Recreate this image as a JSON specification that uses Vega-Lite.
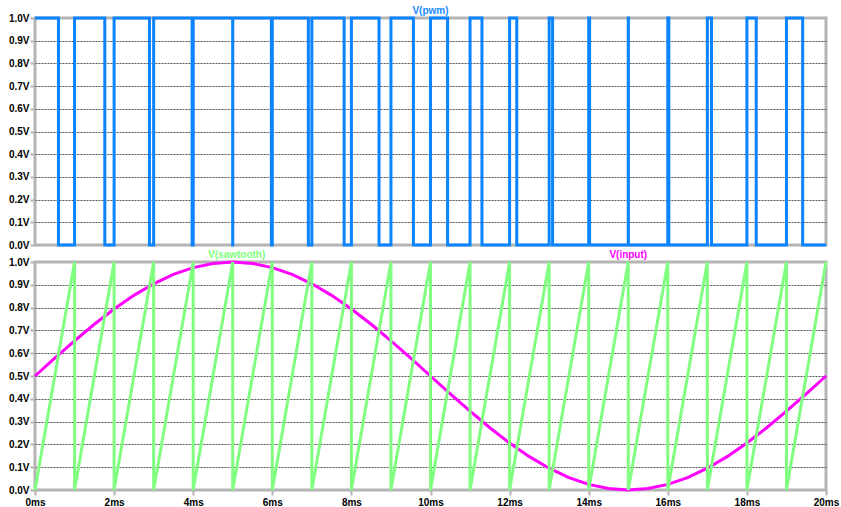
{
  "$schema": "https://vega.github.io/schema/vega-lite/v6.json",
  "autosize": {"type": "pad"},
  "padding": {"left": 6, "top": 4, "right": 0, "bottom": 0},
  "background": "white",
  "bounds": "flush",
  "spacing": 17,
  "datasets": {
    "pwm": [
      {"i": 0, "t": 0, "v": 1},
      {"i": 1, "t": 0.593, "v": 1}, {"i": 2, "t": 0.593, "v": 0},
      {"i": 3, "t": 1, "v": 0}, {"i": 4, "t": 1, "v": 1},
      {"i": 5, "t": 1.765, "v": 1}, {"i": 6, "t": 1.765, "v": 0},
      {"i": 7, "t": 2, "v": 0}, {"i": 8, "t": 2, "v": 1},
      {"i": 9, "t": 2.894, "v": 1}, {"i": 10, "t": 2.894, "v": 0},
      {"i": 11, "t": 3, "v": 0}, {"i": 12, "t": 3, "v": 1},
      {"i": 13, "t": 3.973, "v": 1}, {"i": 14, "t": 3.973, "v": 0},
      {"i": 15, "t": 4, "v": 0}, {"i": 16, "t": 4, "v": 1},
      {"i": 17, "t": 4.998, "v": 1}, {"i": 18, "t": 4.998, "v": 0},
      {"i": 19, "t": 5, "v": 0}, {"i": 20, "t": 5, "v": 1},
      {"i": 21, "t": 5.977, "v": 1}, {"i": 22, "t": 5.977, "v": 0},
      {"i": 23, "t": 6, "v": 0}, {"i": 24, "t": 6, "v": 1},
      {"i": 25, "t": 6.912, "v": 1}, {"i": 26, "t": 6.912, "v": 0},
      {"i": 27, "t": 7, "v": 0}, {"i": 28, "t": 7, "v": 1},
      {"i": 29, "t": 7.816, "v": 1}, {"i": 30, "t": 7.816, "v": 0},
      {"i": 31, "t": 8, "v": 0}, {"i": 32, "t": 8, "v": 1},
      {"i": 33, "t": 8.699, "v": 1}, {"i": 34, "t": 8.699, "v": 0},
      {"i": 35, "t": 9, "v": 0}, {"i": 36, "t": 9, "v": 1},
      {"i": 37, "t": 9.568, "v": 1}, {"i": 38, "t": 9.568, "v": 0},
      {"i": 39, "t": 10, "v": 0}, {"i": 40, "t": 10, "v": 1},
      {"i": 41, "t": 10.432, "v": 1}, {"i": 42, "t": 10.432, "v": 0},
      {"i": 43, "t": 11, "v": 0}, {"i": 44, "t": 11, "v": 1},
      {"i": 45, "t": 11.301, "v": 1}, {"i": 46, "t": 11.301, "v": 0},
      {"i": 47, "t": 12, "v": 0}, {"i": 48, "t": 12, "v": 1},
      {"i": 49, "t": 12.181, "v": 1}, {"i": 50, "t": 12.181, "v": 0},
      {"i": 51, "t": 13, "v": 0}, {"i": 52, "t": 13, "v": 1},
      {"i": 53, "t": 13.087, "v": 1}, {"i": 54, "t": 13.087, "v": 0},
      {"i": 55, "t": 14, "v": 0}, {"i": 56, "t": 14, "v": 1},
      {"i": 57, "t": 14.023, "v": 1}, {"i": 58, "t": 14.023, "v": 0},
      {"i": 59, "t": 15, "v": 0}, {"i": 60, "t": 15, "v": 1},
      {"i": 61, "t": 15.004, "v": 1}, {"i": 62, "t": 15.004, "v": 0},
      {"i": 63, "t": 16, "v": 0}, {"i": 64, "t": 16, "v": 1},
      {"i": 65, "t": 16.026, "v": 1}, {"i": 66, "t": 16.026, "v": 0},
      {"i": 67, "t": 17, "v": 0}, {"i": 68, "t": 17, "v": 1},
      {"i": 69, "t": 17.105, "v": 1}, {"i": 70, "t": 17.105, "v": 0},
      {"i": 71, "t": 18, "v": 0}, {"i": 72, "t": 18, "v": 1},
      {"i": 73, "t": 18.236, "v": 1}, {"i": 74, "t": 18.236, "v": 0},
      {"i": 75, "t": 19, "v": 0}, {"i": 76, "t": 19, "v": 1},
      {"i": 77, "t": 19.41, "v": 1}, {"i": 78, "t": 19.41, "v": 0},
      {"i": 79, "t": 20, "v": 0}
    ],
    "saw": [
      {"i": 0, "t": 0, "v": 0},
      {"i": 1, "t": 1, "v": 1}, {"i": 2, "t": 1, "v": 0},
      {"i": 3, "t": 2, "v": 1}, {"i": 4, "t": 2, "v": 0},
      {"i": 5, "t": 3, "v": 1}, {"i": 6, "t": 3, "v": 0},
      {"i": 7, "t": 4, "v": 1}, {"i": 8, "t": 4, "v": 0},
      {"i": 9, "t": 5, "v": 1}, {"i": 10, "t": 5, "v": 0},
      {"i": 11, "t": 6, "v": 1}, {"i": 12, "t": 6, "v": 0},
      {"i": 13, "t": 7, "v": 1}, {"i": 14, "t": 7, "v": 0},
      {"i": 15, "t": 8, "v": 1}, {"i": 16, "t": 8, "v": 0},
      {"i": 17, "t": 9, "v": 1}, {"i": 18, "t": 9, "v": 0},
      {"i": 19, "t": 10, "v": 1}, {"i": 20, "t": 10, "v": 0},
      {"i": 21, "t": 11, "v": 1}, {"i": 22, "t": 11, "v": 0},
      {"i": 23, "t": 12, "v": 1}, {"i": 24, "t": 12, "v": 0},
      {"i": 25, "t": 13, "v": 1}, {"i": 26, "t": 13, "v": 0},
      {"i": 27, "t": 14, "v": 1}, {"i": 28, "t": 14, "v": 0},
      {"i": 29, "t": 15, "v": 1}, {"i": 30, "t": 15, "v": 0},
      {"i": 31, "t": 16, "v": 1}, {"i": 32, "t": 16, "v": 0},
      {"i": 33, "t": 17, "v": 1}, {"i": 34, "t": 17, "v": 0},
      {"i": 35, "t": 18, "v": 1}, {"i": 36, "t": 18, "v": 0},
      {"i": 37, "t": 19, "v": 1}, {"i": 38, "t": 19, "v": 0},
      {"i": 39, "t": 20, "v": 1}
    ],
    "input": [
      {"t": 0, "v": 0.5}, {"t": 0.5, "v": 0.5782}, {"t": 1, "v": 0.6545}, {"t": 1.5, "v": 0.727},
      {"t": 2, "v": 0.7939}, {"t": 2.5, "v": 0.8536}, {"t": 3, "v": 0.9045}, {"t": 3.5, "v": 0.9455},
      {"t": 4, "v": 0.9755}, {"t": 4.5, "v": 0.9938}, {"t": 5, "v": 1.0}, {"t": 5.5, "v": 0.9938},
      {"t": 6, "v": 0.9755}, {"t": 6.5, "v": 0.9455}, {"t": 7, "v": 0.9045}, {"t": 7.5, "v": 0.8536},
      {"t": 8, "v": 0.7939}, {"t": 8.5, "v": 0.727}, {"t": 9, "v": 0.6545}, {"t": 9.5, "v": 0.5782},
      {"t": 10, "v": 0.5}, {"t": 10.5, "v": 0.4218}, {"t": 11, "v": 0.3455}, {"t": 11.5, "v": 0.273},
      {"t": 12, "v": 0.2061}, {"t": 12.5, "v": 0.1464}, {"t": 13, "v": 0.0955}, {"t": 13.5, "v": 0.0545},
      {"t": 14, "v": 0.0245}, {"t": 14.5, "v": 0.0062}, {"t": 15, "v": 0.0}, {"t": 15.5, "v": 0.0062},
      {"t": 16, "v": 0.0245}, {"t": 16.5, "v": 0.0545}, {"t": 17, "v": 0.0955}, {"t": 17.5, "v": 0.1464},
      {"t": 18, "v": 0.2061}, {"t": 18.5, "v": 0.273}, {"t": 19, "v": 0.3455}, {"t": 19.5, "v": 0.4218},
      {"t": 20, "v": 0.5}
    ]
  },
  "vconcat": [
    {
      "width": 791,
      "height": 227,
      "encoding": {
        "x": {"field": "t", "type": "quantitative", "scale": {"domain": [0, 20], "nice": false, "zero": false},
              "axis": {"labels": false, "ticks": false, "grid": false, "domain": false}},
        "y": {"field": "v", "type": "quantitative", "scale": {"domain": [0, 1], "nice": false},
              "axis": {"values": [0, 0.1, 0.2, 0.3, 0.4, 0.5, 0.6, 0.7, 0.8, 0.9, 1.0], "tickCount": 11,
                       "labelExpr": "format(datum.value, '.1f') + 'V'"}}
      },
      "layer": [
        {
          "data": {"name": "pwm"},
          "mark": {"type": "line", "color": "#0a84ff", "strokeWidth": 3, "clip": false},
          "encoding": {
            "order": {"field": "i", "type": "quantitative"}
          }
        },
        {
          "data": {"values": [{"t": 10, "v": 1, "label": "V(pwm)"}]},
          "mark": {"type": "text", "baseline": "middle", "dy": -7, "fontWeight": "bold", "fontSize": 10, "font": "Liberation Sans", "color": "#1a8cff"},
          "encoding": {
            "text": {"field": "label"}
          }
        }
      ]
    },
    {
      "width": 791,
      "height": 228,
      "encoding": {
        "x": {"field": "t", "type": "quantitative", "scale": {"domain": [0, 20], "nice": false, "zero": false},
              "axis": {"values": [0, 2, 4, 6, 8, 10, 12, 14, 16, 18, 20], "labelExpr": "datum.value + 'ms'", "grid": false, "domain": false, "labelPadding": 2}},
        "y": {"field": "v", "type": "quantitative", "scale": {"domain": [0, 1], "nice": false},
              "axis": {"values": [0, 0.1, 0.2, 0.3, 0.4, 0.5, 0.6, 0.7, 0.8, 0.9, 1.0], "tickCount": 11,
                       "labelExpr": "format(datum.value, '.1f') + 'V'"}}
      },
      "layer": [
        {
          "data": {"name": "input"},
          "mark": {"type": "line", "color": "#ff00ff", "strokeWidth": 3, "clip": false}
        },
        {
          "data": {"name": "saw"},
          "mark": {"type": "line", "color": "#80ff80", "strokeWidth": 3, "clip": false},
          "encoding": {
            "order": {"field": "i", "type": "quantitative"}
          }
        },
        {
          "data": {"values": [{"t": 5.1, "v": 1, "label": "V(sawtooth)"}]},
          "mark": {"type": "text", "baseline": "middle", "dy": -7, "fontWeight": "bold", "fontSize": 10, "font": "Liberation Sans", "color": "#80ff80"},
          "encoding": {
            "text": {"field": "label"}
          }
        },
        {
          "data": {"values": [{"t": 15, "v": 1, "label": "V(input)"}]},
          "mark": {"type": "text", "baseline": "middle", "dy": -7, "fontWeight": "bold", "fontSize": 10, "font": "Liberation Sans", "color": "#ff00ff"},
          "encoding": {
            "text": {"field": "label"}
          }
        }
      ]
    }
  ],
  "config": {
    "view": {"stroke": "#b4b4b4", "strokeWidth": 3},
    "axis": {
      "title": null,
      "domain": false,
      "grid": true,
      "gridColor": {"condition": {"test": "datum.value == 0 || datum.value == 1", "value": "#b4b4b4"}, "value": "#555555"},
      "gridDash": {"condition": {"test": "datum.value == 0 || datum.value == 1", "value": []}, "value": [2, 1]},
      "gridWidth": 1,
      "labelFont": "Liberation Sans",
      "labelFontWeight": "bold",
      "labelFontSize": 10,
      "labelColor": "#000000",
      "labelOverlap": false,
      "labelFlush": false,
      "tickColor": "#b4b4b4",
      "tickWidth": 2,
      "tickSize": 5,
      "labelPadding": 1
    }
  }
}
